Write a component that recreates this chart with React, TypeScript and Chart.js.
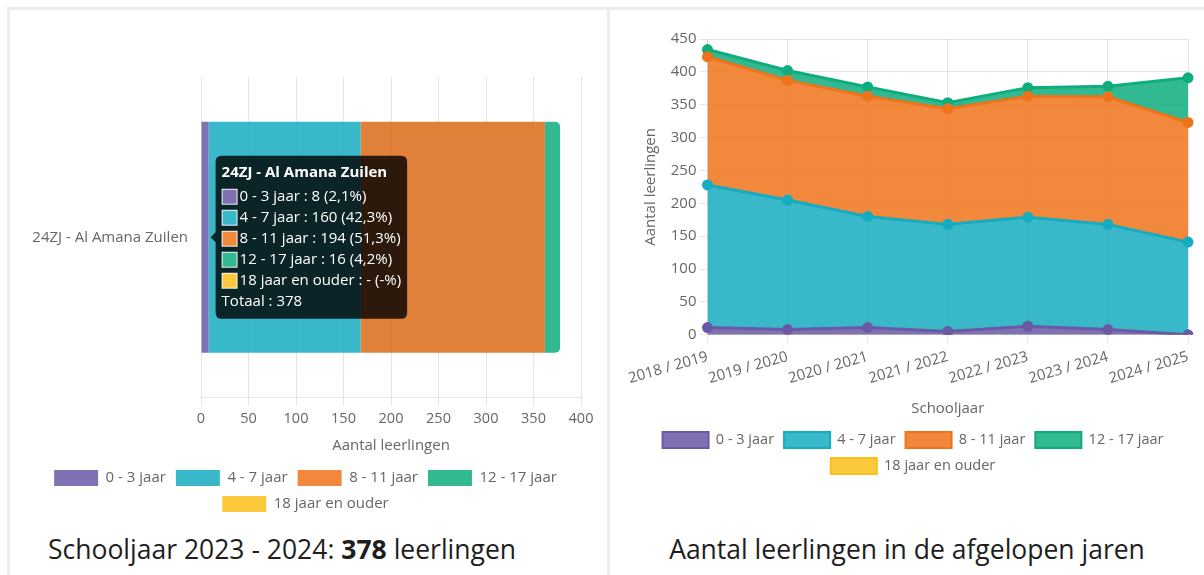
import React, { useEffect, useRef } from "react";
import { Chart, registerables, Tooltip } from "chart.js";

Chart.register(...registerables);

// ---------- data ----------
const ageGroups = ["0 - 3 jaar", "4 - 7 jaar", "8 - 11 jaar", "12 - 17 jaar", "18 jaar en ouder"];
const schoolName = "24ZJ - Al Amana Zuilen";
const currentYearText = "Schooljaar 2023 - 2024";
const currentCounts: (number | null)[] = [8, 160, 194, 16, null];
const xTicksLeft = { min: 0, max: 400, step: 50 };

const schoolYears = ["2018 / 2019", "2019 / 2020", "2020 / 2021", "2021 / 2022", "2022 / 2023", "2023 / 2024", "2024 / 2025"];
const age0to3: (number | null)[] = [11, 8, 11, 5, 13, 8, 0];
const age4to7: (number | null)[] = [217, 197, 169, 163, 166, 160, 141];
const age8to11: (number | null)[] = [195, 182, 183, 176, 184, 194, 182];
const age12to17: (number | null)[] = [11, 15, 14, 9, 13, 16, 68];
const age18plus: (number | null)[] = [null, null, null, null, null, null, null];
const yTicksRight = { min: 0, max: 450, step: 50 };

const historySeries = [age0to3, age4to7, age8to11, age12to17, age18plus];

// ---------- style ----------
const baseRGB = ["106,89,165", "21,172,192", "238,115,26", "14,173,126", "252,191,26"];
const solid = (i: number) => `rgb(${baseRGB[i]})`;
const fill = (i: number) => `rgba(${baseRGB[i]},0.85)`;
const hoverOrange = "rgba(221,112,30,0.88)";
const FONT = '"Open Sans", "Noto Sans", sans-serif';
const GREY = "#666";
const GRID = "rgba(0,0,0,0.1)";

const total = currentCounts.reduce<number>((s, v) => s + (v ?? 0), 0);

(Tooltip.positioners as any).barEnd = function (items: any[]) {
  if (!items.length) return false;
  const el = items[0].element;
  return { x: el.x, y: el.y };
};

export default function App() {
  const leftRef = useRef<HTMLCanvasElement | null>(null);
  const rightRef = useRef<HTMLCanvasElement | null>(null);

  useEffect(() => {
    Chart.defaults.font.family = FONT;
    Chart.defaults.color = GREY;

    const left = new Chart(leftRef.current!, {
      type: "bar",
      data: {
        labels: [schoolName],
        datasets: ageGroups.map((label, i) => ({
          label,
          data: [currentCounts[i]],
          backgroundColor: fill(i),
          hoverBackgroundColor: i === 2 ? hoverOrange : fill(i),
          borderWidth: 0,
          borderRadius: 5,
        })),
      },
      options: {
        animation: false,
        responsive: true,
        maintainAspectRatio: false,
        events: [],
        indexAxis: "y",
        layout: { padding: { top: 67, right: 26, left: 20, bottom: 0 } },
        scales: {
          x: {
            stacked: true,
            min: xTicksLeft.min,
            max: xTicksLeft.max,
            ticks: { stepSize: xTicksLeft.step, font: { size: 14.5 }, color: GREY, padding: 5 },
            grid: { color: GRID },
            border: { color: GRID },
            title: { display: true, text: "Aantal leerlingen", font: { size: 15 }, color: GREY, padding: { top: 0, bottom: 5 } },
            afterFit: (s: any) => { s.height = 62.5; },
          },
          y: {
            stacked: true,
            grid: { display: false, drawTicks: false },
            border: { display: false },
            ticks: { padding: 13, font: { size: 15 }, color: GREY },
            afterFit: (s: any) => { s.width = 171; },
          },
        },
        plugins: {
          legend: {
            position: "bottom",
            labels: { boxWidth: 44, boxHeight: 16, padding: 10, font: { size: 15 }, color: GREY },
          },
          tooltip: {
            enabled: true,
            mode: "index",
            position: "barEnd" as any,
            backgroundColor: "rgba(0,0,0,0.8)",
            titleFont: { size: 15, weight: "bold" },
            bodyFont: { size: 15 },
            titleColor: "#fff",
            bodyColor: "#fff",
            padding: { top: 8, bottom: 8, left: 6, right: 6 },
            titleMarginBottom: 6,
            bodySpacing: 3,
            boxWidth: 16,
            boxHeight: 16,
            cornerRadius: 6,
            caretSize: 5,
            caretPadding: 2,
            callbacks: {
              label: (ctx: any) => {
                const v = ctx.raw;
                if (v == null) return `${ctx.dataset.label} : - (-%)`;
                const pct = ((v / total) * 100).toFixed(1).replace(".", ",");
                return `${ctx.dataset.label} : ${v} (${pct}%)`;
              },
              afterBody: () => `Totaal : ${total}`,
            },
          },
        },
      },
    });

    left.setActiveElements([{ datasetIndex: 2, index: 0 }]);
    left.tooltip!.setActiveElements(
      ageGroups.map((_, i) => ({ datasetIndex: i, index: 0 })),
      { x: 0, y: 0 }
    );
    left.update();

    const right = new Chart(rightRef.current!, {
      type: "line",
      data: {
        labels: schoolYears,
        datasets: ageGroups.map((label, i) => ({
          label,
          data: historySeries[i],
          borderColor: solid(i),
          backgroundColor: fill(i),
          pointBackgroundColor: solid(i),
          pointBorderColor: solid(i),
          pointRadius: 4,
          borderWidth: 3,
          tension: 0,
          fill: i === 0 ? "origin" : "-1",
        })),
      },
      options: {
        animation: false,
        responsive: true,
        maintainAspectRatio: false,
        events: [],
        layout: { padding: { top: 29, right: 13, left: 26, bottom: 0 } },
        scales: {
          x: {
            grid: { color: GRID },
            border: { color: GRID },
            ticks: { minRotation: 16, maxRotation: 16, font: { size: 15 }, color: GREY, padding: 5 },
            title: { display: true, text: "Schooljaar", font: { size: 15 }, color: GREY, padding: { top: 0, bottom: 4 } },
            afterFit: (s: any) => { s.height = 87.2; },
          },
          y: {
            stacked: true,
            min: yTicksRight.min,
            max: yTicksRight.max,
            ticks: { stepSize: yTicksRight.step, font: { size: 15 }, color: GREY },
            grid: { color: GRID },
            border: { color: GRID },
            title: { display: true, text: "Aantal leerlingen", font: { size: 15 }, color: GREY, padding: { top: 4, bottom: 4 } },
            afterFit: (s: any) => { s.width = 69.5; },
          },
        },
        plugins: {
          legend: {
            position: "bottom",
            labels: {
              boxWidth: 46,
              boxHeight: 16,
              padding: 10,
              font: { size: 14.5 },
              color: GREY,
              generateLabels: (chart: any) =>
                (Chart.defaults.plugins.legend.labels.generateLabels as any)(chart).map((l: any) => ({ ...l, lineWidth: 2 })),
            },
          },
          tooltip: { enabled: false },
        },
      },
    });

    return () => {
      left.destroy();
      right.destroy();
    };
  }, []);

  const titleStyle: React.CSSProperties = {
    position: "absolute",
    top: 531,
    fontFamily: FONT,
    fontSize: 26.5,
    lineHeight: "36px",
    color: "#1e1e1e",
    whiteSpace: "nowrap",
  };

  return (
    <div style={{ position: "absolute", left: 0, top: 0, width: 1204, height: 575, overflow: "hidden", background: "#fff" }}>
      <div style={{ position: "absolute", left: 7, top: 7, width: 597, height: 620, border: "3px solid #ececec" }} />
      <div style={{ position: "absolute", left: 607, top: 7, width: 594, height: 620, border: "3px solid #ececec" }} />
      <div style={{ position: "absolute", left: 10, top: 10, width: 597, height: 512 }}>
        <canvas ref={leftRef} />
      </div>
      <div style={{ position: "absolute", left: 612, top: 10, width: 589, height: 474 }}>
        <canvas ref={rightRef} />
      </div>
      <div style={{ ...titleStyle, left: 48 }}>
        {currentYearText}: <b>{total}</b> leerlingen
      </div>
      <div style={{ ...titleStyle, left: 610, width: 594, textAlign: "center" }}>
        Aantal leerlingen in de afgelopen jaren
      </div>
    </div>
  );
}
